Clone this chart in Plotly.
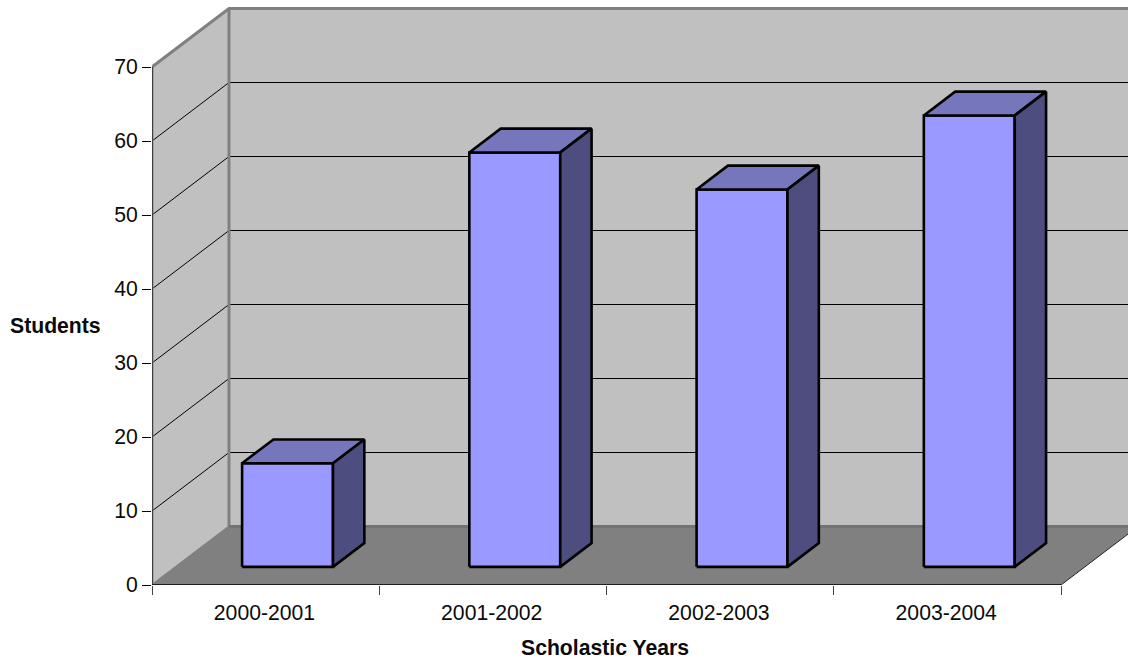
import plotly.graph_objects as go

# Chart data
years = ["2000-2001", "2001-2002", "2002-2003", "2003-2004"]
students = [14, 56, 51, 61]
y_ticks = [0, 10, 20, 30, 40, 50, 60, 70]
grid_values = [10, 20, 30, 40, 50, 60]

# Page and plot-area size in pixels
WIDTH, HEIGHT = 1128, 659
LEFT, BASE = 152, 585
CAT_PX, UNIT_PX = 227.25, 7.4

# Oblique projection: one full unit of depth moves a point by this much
DEPTH_X = 77 / CAT_PX
DEPTH_Y = 58.5 / UNIT_PX
Y_TOP = y_ticks[-1]
N = len(years)

# Position of the bars inside a category slot and inside the floor depth
BAR_LEFT, BAR_WIDTH = 0.2914, 0.40
BAR_NEAR, BAR_DEPTH = 0.31, 0.407

FONT = "Liberation Sans, Arial, sans-serif"
TEXT_SIZE = 21.2
INK = "#0a0a0a"
WALL, FLOOR, EDGE = "#C0C0C0", "#808080", "#808080"
FRONT, TOP, SIDE = "#9999FF", "#7676BC", "#4D4D7F"


def project(x, v, depth=0.0):
    """Map a category position, a value and a depth to axis coordinates."""
    return x + depth * DEPTH_X, v + depth * DEPTH_Y


def poly(points, fill=None, line="rgba(0,0,0,0)", width=0, clip=True):
    xs, ys = zip(*[project(*p) for p in points])
    return go.Scatter(
        x=list(xs), y=list(ys), mode="lines",
        fill="toself" if fill else "none",
        fillcolor=fill,
        line=dict(color=line, width=width),
        hoverinfo="skip", showlegend=False, cliponaxis=clip,
    )


fig = go.Figure()

# Walls and floor; the far end of the box runs past the page edge
x_end = N
fig.add_trace(poly([(0, 0, 1), (x_end, 0, 1), (x_end, Y_TOP, 1), (0, Y_TOP, 1)], WALL))
fig.add_trace(poly([(0, 0, 0), (0, 0, 1), (0, Y_TOP, 1), (0, Y_TOP, 0)], WALL))
fig.add_trace(poly([(0, 0, 0), (x_end, 0, 0), (x_end, 0, 1), (0, 0, 1)], FLOOR))

# Gridlines across the side wall and the back wall
for v in grid_values:
    fig.add_trace(poly([(0, v, 0), (0, v, 1), (x_end, v, 1)], line="#000000", width=1))

# Box edges
fig.add_trace(poly([(0, 0, 1), (0, Y_TOP, 1)], line=EDGE, width=3))
fig.add_trace(poly([(0, Y_TOP, 0), (0, Y_TOP, 1), (x_end, Y_TOP, 1)], line=EDGE, width=3))
fig.add_trace(poly([(0, 0, 1), (x_end, 0, 1)], line="#737373", width=3))
fig.add_trace(poly([(0, 0, 0), (0, 0, 1)], line=EDGE, width=2))
fig.add_trace(poly([(x_end, 0, 0), (x_end, 0, 1)], line="#222222", width=1))
fig.add_trace(poly([(0, 0, 0), (0, Y_TOP, 0)], line=EDGE, width=3, clip=False))
fig.add_trace(poly([(0, 0, 0), (0, Y_TOP, 0)], line="#000000", width=1, clip=False))
fig.add_trace(poly([(0, 0, 0), (x_end, 0, 0)], line="#000000", width=1.5, clip=False))

# Bars: front, top and side faces
for i, value in enumerate(students):
    x0 = i + BAR_LEFT
    x1 = x0 + BAR_WIDTH
    d0, d1 = BAR_NEAR, BAR_NEAR + BAR_DEPTH
    faces = [
        ([(x0, 0, d0), (x1, 0, d0), (x1, value, d0), (x0, value, d0)], FRONT),
        ([(x0, value, d0), (x1, value, d0), (x1, value, d1), (x0, value, d1)], TOP),
        ([(x1, 0, d0), (x1, 0, d1), (x1, value, d1), (x1, value, d0)], SIDE),
    ]
    for pts, colour in faces:
        fig.add_trace(poly(pts + pts[:1], colour, line="#000000", width=2.6))

fig.update_layout(
    width=WIDTH, height=HEIGHT,
    margin=dict(l=LEFT, r=0, t=0, b=HEIGHT - BASE, pad=0),
    paper_bgcolor="white", plot_bgcolor="white",
    font=dict(family=FONT, size=TEXT_SIZE, color=INK),
    showlegend=False,
    xaxis=dict(
        range=[0, (WIDTH - LEFT) / CAT_PX],
        tickmode="array",
        tickvals=[i + 0.495 for i in range(N)],
        ticktext=years,
        ticks="", ticklen=0,
        ticklabelstandoff=13,
        showgrid=False, zeroline=False, showline=False,
        minor=dict(tickmode="array", tickvals=list(range(N + 1)), ticks="outside",
                   ticklen=9, tickwidth=1, tickcolor="#444444", showgrid=False),
        tickfont=dict(family=FONT, size=TEXT_SIZE, color=INK),
        fixedrange=True,
    ),
    yaxis=dict(
        range=[0, BASE / UNIT_PX],
        tickmode="array",
        tickvals=y_ticks,
        ticks="outside", ticklen=9, tickwidth=1, tickcolor="#000000",
        showgrid=False, zeroline=False, showline=False,
        tickfont=dict(family=FONT, size=TEXT_SIZE, color=INK),
        fixedrange=True,
    ),
    annotations=[
        dict(text="<b>Students</b>", xref="paper", yref="paper",
             x=(55.5 - LEFT) / (WIDTH - LEFT), y=(BASE - 325) / BASE,
             xanchor="center", yanchor="middle", showarrow=False,
             font=dict(family=FONT, size=TEXT_SIZE, color=INK)),
        dict(text="<b>Scholastic Years</b>", xref="paper", yref="paper",
             x=(605 - LEFT) / (WIDTH - LEFT), y=(BASE - 647) / BASE,
             xanchor="center", yanchor="middle", showarrow=False,
             font=dict(family=FONT, size=TEXT_SIZE, color=INK)),
    ],
)

fig.write_html("out.html", config={"displayModeBar": False})
